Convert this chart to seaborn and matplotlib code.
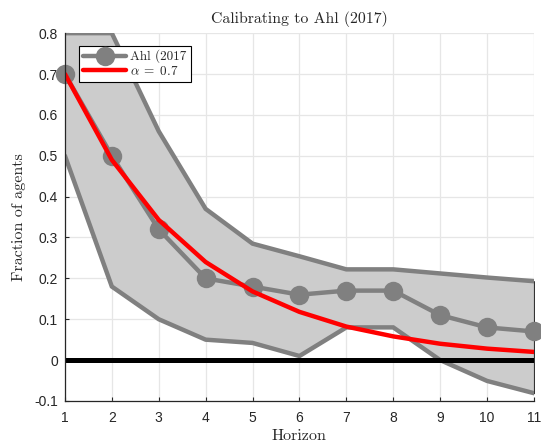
import numpy as np
import pandas as pd
import matplotlib
matplotlib.use("Agg")
import matplotlib.pyplot as plt
import seaborn as sns

# Horizons and survey data
horizon = [1, 2, 3, 4, 5, 6, 7, 8, 9, 10, 11]
ahl_share = [0.70, 0.50, 0.32, 0.20, 0.18, 0.16, 0.17, 0.17, 0.11, 0.08, 0.07]
band_upper = [0.80, 0.80, 0.56, 0.37, 0.285, 0.254, 0.222, 0.222, 0.212, 0.202, 0.193]
band_lower = [0.50, 0.18, 0.10, 0.05, 0.042, 0.01, 0.08, 0.08, 0.00, -0.051, -0.081]
model_share = [0.70, 0.49, 0.343, 0.240, 0.168, 0.118, 0.082, 0.058, 0.040, 0.028, 0.020]

x_ticks = [1, 2, 3, 4, 5, 6, 7, 8, 9, 10, 11]
y_ticks = [-0.1, 0, 0.1, 0.2, 0.3, 0.4, 0.5, 0.6, 0.7, 0.8]
y_tick_labels = ["-0.1", "0", "0.1", "0.2", "0.3", "0.4", "0.5", "0.6", "0.7", "0.8"]

sns.set_theme(style="whitegrid")
plt.rcParams["font.family"] = ["Liberation Sans", "DejaVu Sans"]
plt.rcParams["mathtext.fontset"] = "cm"

df = pd.DataFrame({"h": horizon, "ahl": ahl_share, "model": model_share})

fig = plt.figure(figsize=(5.41, 4.48), dpi=100)
ax = fig.add_axes([0.120, 0.105, 0.867, 0.821])

grey = "#808080"
ax.fill_between(horizon, band_lower, band_upper, facecolor="#cccccc",
                edgecolor="#333333", linewidth=0.8, zorder=2)
ax.plot(horizon, band_upper, color=grey, lw=3.2, zorder=3, solid_joinstyle="miter")
ax.plot(horizon, band_lower, color=grey, lw=3.2, zorder=3, solid_joinstyle="miter")

ax.axhline(0, color="black", lw=3.6, zorder=4)

sns.lineplot(data=df, x="h", y="ahl", ax=ax, color=grey, lw=3.2, marker="o",
             markersize=14, markeredgewidth=0, label="Ahl (2017", zorder=5,
             clip_on=False)
sns.lineplot(data=df, x="h", y="model", ax=ax, color="red", lw=3.2,
             label=r"$\alpha \;=\; 0.7$", zorder=6)

ax.set_xlim(1, 11)
ax.set_ylim(-0.1, 0.8)
ax.set_xticks(x_ticks)
ax.set_yticks(y_ticks)
ax.set_yticklabels(y_tick_labels)
ax.tick_params(axis="both", labelsize=10, colors="#262626", direction="in",
               length=3, width=0.8)
ax.tick_params(axis="x", bottom=True, pad=7)
ax.tick_params(axis="y", left=True, pad=5)

ax.grid(True, color="#e6e6e6", lw=0.9)
ax.set_facecolor("white")
for side in ["top", "right"]:
    ax.spines[side].set_visible(False)
for side in ["left", "bottom"]:
    ax.spines[side].set_color("#262626")
    ax.spines[side].set_linewidth(0.9)
    ax.spines[side].set_zorder(7)

ax.set_title("Calibrating to Ahl (2017)", fontfamily="cmr10", fontsize=11.4,
             color="#262626", pad=7)
ax.set_xlabel("Horizon", fontfamily="cmr10", fontsize=11.5, color="#262626",
              labelpad=3)
ax.set_ylabel("Fraction of agents", fontfamily="cmr10", fontsize=11.5,
              color="#262626", labelpad=6)

leg = ax.legend(loc="upper left", bbox_to_anchor=(0.03, 0.965),
                prop={"family": "cmr10", "size": 9.5}, frameon=True,
                fancybox=False, edgecolor="black", framealpha=1,
                handlelength=3.3, borderpad=0.3, labelspacing=0.1,
                handletextpad=0.3, borderaxespad=0)
leg.get_frame().set_linewidth(0.8)
leg.set_zorder(10)

fig.savefig("out.png", dpi=100)
